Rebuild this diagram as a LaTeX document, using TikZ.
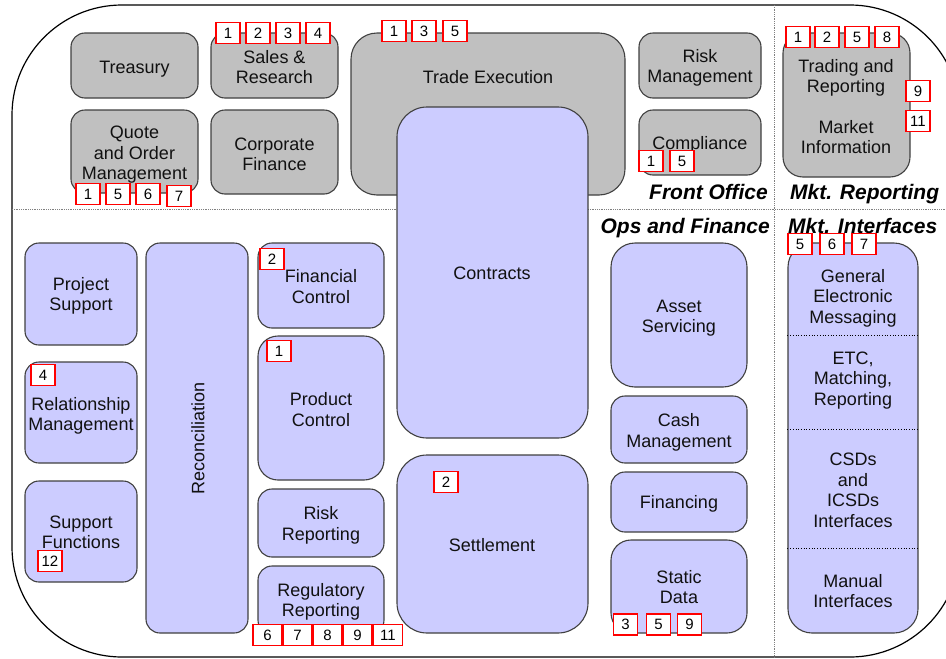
\documentclass[tikz,border=0pt]{standalone}
\usepackage{fontspec}
\setmainfont{Liberation Sans}
\usetikzlibrary{fit}
\definecolor{grayfill}{HTML}{C0C0C0}
\definecolor{purfill}{HTML}{CCCCFF}
\definecolor{bord}{HTML}{404040}
\definecolor{txt}{HTML}{111111}
\definecolor{badgered}{HTML}{FF0000}
\begin{document}
\begin{tikzpicture}[x=1pt,y=-1pt,
 box/.style={draw=bord, line width=1.1pt, inner sep=0pt},
 gbox/.style={box, fill=grayfill, rounded corners=14pt},
 pbox/.style={box, fill=purfill, rounded corners=14pt},
 lbl/.style={inner sep=0pt, align=center, text=txt, font=\fontsize{18}{20.5}\selectfont},
 badge/.style={draw=badgered, line width=1.9pt, fill=white, minimum width=24pt, minimum height=21pt, inner sep=0pt, font=\fontsize{15}{15}\selectfont},
 wbadge/.style={badge, minimum width=29pt},
 sect/.style={font=\fontsize{21}{21}\selectfont\bfseries\itshape, inner sep=0pt},
 sepline/.style={draw=gray, densely dotted, line width=0.8pt},
 divline/.style={draw=black, dotted, line width=0.7pt}]
\useasboundingbox (0,0) rectangle (946,659);
\clip (0,0) rectangle (946,659);
\draw[line width=1.2pt, rounded corners=110pt] (12,5) rectangle (960,657);
\draw[sepline] (12,209) -- (946,209);
\draw[sepline] (774,5) -- (774,657);

% Front office (gray)
\node[gbox, fit={(71,33) (198,98)}] (treasury) {};
\node[lbl] (treasurylbl) at (134.5,69) {Treasury};
\node[gbox, fit={(211,33) (338,98)}] (sales) {};
\node[lbl] (saleslbl) at (274.5,67) {Sales \&\\Research};
\node[gbox, fit={(71,110) (198,193)}] (quote) {};
\node[lbl] (quotelbl) at (134.5,155) {Quote\\and Order\\Management};
\node[gbox, fit={(211,110) (338,194)}] (corp) {};
\node[lbl] (corplbl) at (274.5,154.5) {Corporate\\Finance};
\node[gbox, rounded corners=26pt, fit={(351,33) (625,195)}] (trade) {};
\node[lbl] (tradelbl) at (488,77) {Trade Execution};
\node[gbox, fit={(639,33) (761,98)}] (risk) {};
\node[lbl] (risklbl) at (700,68) {Risk\\Management};
\node[gbox, fit={(639,110) (761,175)}] (compl) {};
\node[lbl] (compllbl) at (700,145) {Compliance};
\node[gbox, rounded corners=20pt, fit={(783,33) (910,177)}] (trading) {};
\node[lbl] (tradinglbl) at (846,78) {Trading and\\Reporting};
\node[lbl] (marketlbl) at (846,137) {Market\\Information};

% Ops and finance (purple)
\node[pbox, fit={(25,243) (137,345)}] (proj) {};
\node[lbl] (projlbl) at (81,296) {Project\\Support};
\node[pbox, fit={(25,362) (137,463)}] (rel) {};
\node[lbl] (rellbl) at (81,416) {Relationship\\Management};
\node[pbox, fit={(25,481) (137,582)}] (supp) {};
\node[lbl] (supplbl) at (81,532.5) {Support\\Functions};
\node[pbox, fit={(146,243) (248,633)}] (recon) {};
\node[lbl, rotate=90] (reconlbl) at (198,438) {Reconciliation};
\node[pbox, fit={(258,243) (384,328)}] (finctl) {};
\node[lbl] (finctllbl) at (321,286.5) {Financial\\Control};
\node[pbox, rounded corners=20pt, fit={(258,336) (384,480)}] (prodctl) {};
\node[lbl] (prodctllbl) at (321,409.5) {Product\\Control};
\node[pbox, fit={(258,489) (384,557)}] (riskrep) {};
\node[lbl] (riskreplbl) at (321,525.5) {Risk\\Reporting};
\node[pbox, fit={(258,566) (384,634)}] (regrep) {};
\node[lbl] (regreplbl) at (321,602) {Regulatory\\Reporting};
\node[pbox, rounded corners=30pt, fit={(397,107) (588,438)}] (contracts) {};
\node[lbl] (contractslbl) at (492,273) {Contracts};
\node[pbox, rounded corners=30pt, fit={(397,455) (588,633)}] (settle) {};
\node[lbl] (settlelbl) at (492,545) {Settlement};
\node[pbox, rounded corners=24pt, fit={(611,243) (747,387)}] (asset) {};
\node[lbl] (assetlbl) at (679,318) {Asset\\Servicing};
\node[pbox, fit={(611,396) (747,463)}] (cash) {};
\node[lbl] (cashlbl) at (679,432.5) {Cash\\Management};
\node[pbox, fit={(611,472) (747,532)}] (fin) {};
\node[lbl] (finlbl) at (679,504) {Financing};
\node[pbox, rounded corners=20pt, fit={(611,540) (747,633)}] (static) {};
\node[lbl] (staticlbl) at (679,587) {Static\\Data};

% Market interfaces
\node[pbox, rounded corners=24pt, fit={(788,243) (918,633)}] (mkt) {};
\draw[divline] (mkt.west |- 0,335) -- (mkt.east |- 0,335);
\draw[divline] (mkt.west |- 0,429) -- (mkt.east |- 0,429);
\draw[divline] (mkt.west |- 0,548) -- (mkt.east |- 0,548);
\node[lbl] (gem) at (853,298) {General\\Electronic\\Messaging};
\node[lbl] (etc) at (853,380.5) {ETC,\\Matching,\\Reporting};
\node[lbl] (csd) at (853,490.5) {CSDs\\and\\ICSDs\\Interfaces};
\node[lbl] (manual) at (853,591) {Manual\\Interfaces};

% Section titles
\node[sect, anchor=base east] (fo) at (768,199) {Front Office};
\node[sect, anchor=base west] (mr) at (790,199) {Mkt. Reporting};
\node[sect, anchor=base east] (of) at (770,233) {Ops and Finance};
\node[sect, anchor=base west] (mi) at (788,233) {Mkt. Interfaces};

% Badges
\node[badge] (s1) at (228,33) {1};
\node[badge] (s2) at (258,33) {2};
\node[badge] (s3) at (288,33) {3};
\node[badge] (s4) at (318,33) {4};
\node[badge] (q1) at (88,194) {1};
\node[badge] (q5) at (118,194) {5};
\node[badge] (q6) at (148,194) {6};
\node[badge] (q7) at (179,196) {7};
\node[badge] (t1) at (394,31) {1};
\node[badge] (t3) at (424,31) {3};
\node[badge] (t5) at (455,31) {5};
\node[badge] (c1) at (651,161) {1};
\node[badge] (c5) at (682,161) {5};
\node[badge] (r1) at (798,37) {1};
\node[badge] (r2) at (827,37) {2};
\node[badge] (r5) at (857,37) {5};
\node[badge] (r8) at (887,37) {8};
\node[badge] (r9) at (918,91) {9};
\node[badge] (r11) at (918,121) {11};
\node[badge] (m5) at (800,244) {5};
\node[badge] (m6) at (832,244) {6};
\node[badge] (m7) at (864,244) {7};
\node[badge] (f2) at (272,259) {2};
\node[badge] (p1) at (279,351) {1};
\node[badge] (rl4) at (43,375) {4};
\node[badge] (sf12) at (50,561) {12};
\node[badge] (st2) at (446,482) {2};
\node[wbadge] (g6) at (267.5,635) {6};
\node[wbadge] (g7) at (297.5,635) {7};
\node[wbadge] (g8) at (327.5,635) {8};
\node[wbadge] (g9) at (357.5,635) {9};
\node[wbadge] (g11) at (388,635) {11};
\node[badge] (d3) at (625.5,624.5) {3};
\node[badge] (d5) at (658.5,624.5) {5};
\node[badge] (d9) at (689.5,624.5) {9};
\end{tikzpicture}
\end{document}
